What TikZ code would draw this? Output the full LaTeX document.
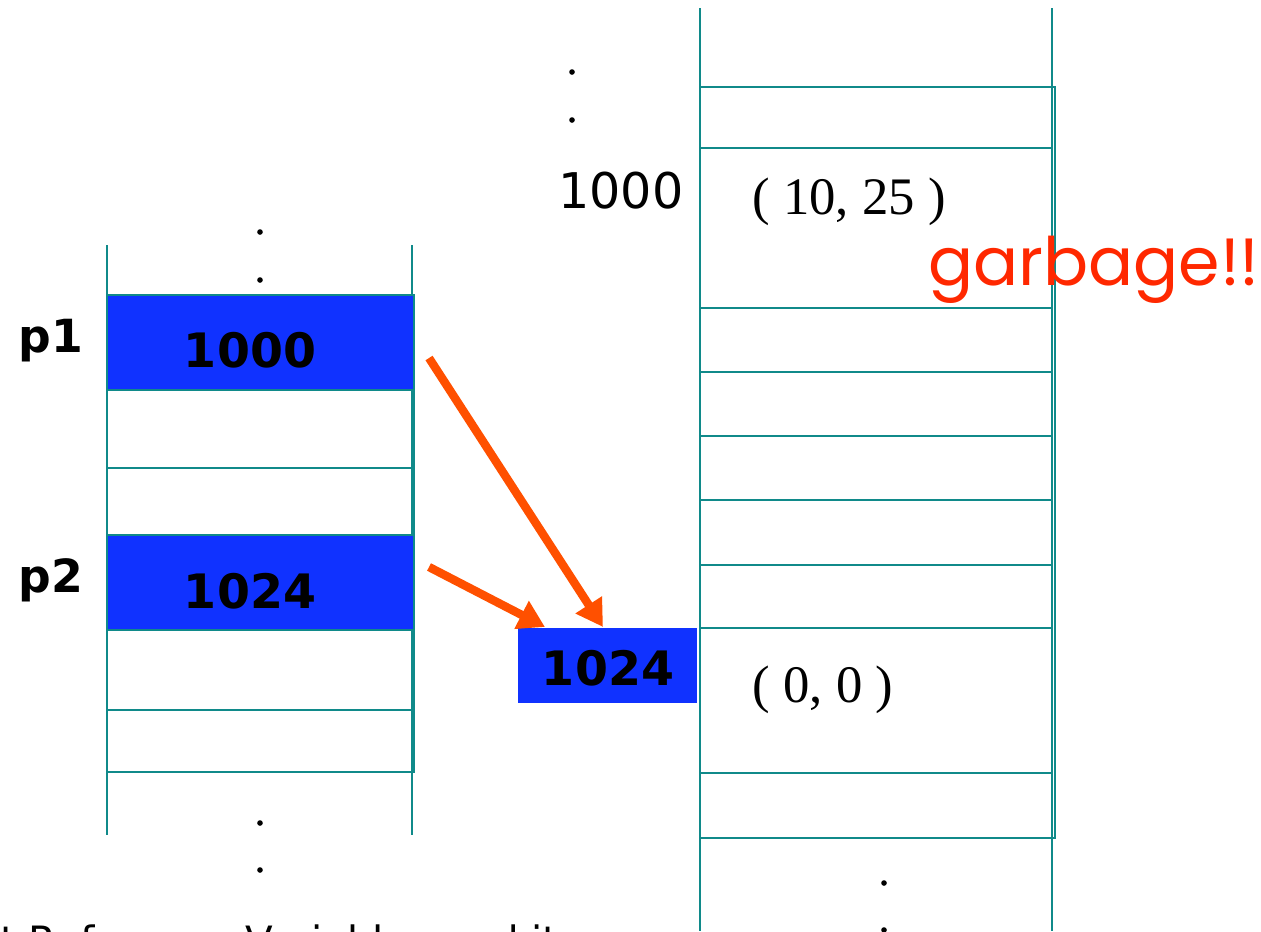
\documentclass[tikz,border=0pt]{standalone}
\usepackage{fontspec}
\setmainfont{DejaVu Sans}
\newfontfamily\timesfont{Liberation Serif}
\newfontfamily\comicfont{Poppins}
\usetikzlibrary{arrows.meta, calc}
\definecolor{cellteal}{RGB}{16,138,138}
\definecolor{ptrblue}{RGB}{16,50,255}
\definecolor{ptrorange}{RGB}{255,80,0}
\definecolor{garbred}{RGB}{255,40,0}

\begin{document}
\begin{tikzpicture}[x=0.02cm,y=-0.02cm,
    cell/.style={draw=cellteal, line width=1.2pt},
    ptrbox/.style={fill=ptrblue, draw=cellteal, line width=1.2pt, inner sep=0pt},
    boldnum/.style={anchor=base, font=\bfseries\fontsize{27}{30}\selectfont},
    ptr/.style={draw=ptrorange, line width=4.8pt, -{Triangle[length=15pt,width=17pt]}},
    dot/.style={circle, fill=black, inner sep=0pt, minimum size=3.2pt}]

  \useasboundingbox (0,0) rectangle (1261,931);
  \clip (0,0) rectangle (1261,931);

     % -------------------------
     % LEFT: pointer variables
     % -------------------------
      \draw[cell] (107,245) -- (107,835);
      \draw[cell] (412,245) -- (412,835);
      \draw[cell] (107,295) rectangle (414,772);
      \foreach \y in {390,468,710}
        \draw[cell] (107,\y) -- (414,\y);

      % Blue cells
      \node[ptrbox, minimum width=6.14cm, minimum height=1.9cm] (p1box) at (260.5,342.5) {};
      \node[ptrbox, minimum width=6.14cm, minimum height=1.9cm] (p2box) at (260.5,582.5) {};
      \node[boldnum] (p1val) at (250,367) {1000};
      \node[boldnum] (p2val) at (250,608) {1024};

      % Variable names
      \node[anchor=base west, inner sep=0pt, font=\bfseries\fontsize{26}{30}\selectfont] (p1name) at (18,352) {p1};
      \node[anchor=base west, inner sep=0pt, font=\bfseries\fontsize{26}{30}\selectfont] (p2name) at (18,592) {p2};

      % Dots
      \foreach \y [count=\i] in {232,280,823,870}
        \node[dot] (ldot\i) at (260,\y) {};

     % -------------------------
     % RIGHT: heap memory
     % -------------------------
      \draw[cell] (700,8) -- (700,931);
      \draw[cell] (1052,8) -- (1052,931);
      \draw[cell] (700,87) rectangle (1055,838);
      \foreach \y in {148,308,372,436,500,565,628,773}
        \draw[cell] (700,\y) -- (1052,\y);

      \node[anchor=base, font=\fontsize{28}{30}\selectfont] (addr) at (621,208) {1000};
      \node[anchor=base, font=\timesfont\fontsize{30}{32}\selectfont] (obj1) at (849,214) {( 10, 25 )};
      \node[anchor=base, font=\timesfont\fontsize{30}{32}\selectfont] (obj2) at (823,702) {( 0, 0 )};
      \node[anchor=base, text=garbred, font=\comicfont\fontsize{38}{40}\selectfont] (garb) at (1094,285) {garbage!!};

      \foreach \x/\y [count=\i] in {572/72,572/120,884/883,884/930}
        \node[dot] (rdot\i) at (\x,\y) {};

      % Heap value cell
      \node[ptrbox, draw=none, minimum width=3.58cm, minimum height=1.5cm] (hbox) at (607.5,665.5) {};
      \node[boldnum] (hval) at (608,685) {1024};

      % Pointer arrows
      \coordinate (p1tail) at ($(p1box.east)+(14,15.5)$);
      \coordinate (p2tail) at ($(p2box.east)+(14,-15.5)$);
      \coordinate (p1head) at ($(hbox.north west)+(86,0)$);
      \coordinate (p2head) at ($(hbox.north west)+(28,0)$);
      \draw[ptr] (p1tail) -- (p1head);
      \draw[ptr] (p2tail) -- (p2head);

      % Caption (cut off at the bottom edge)
      \node[anchor=base west, font=\fontsize{23}{26}\selectfont] (caption) at (-6,955) {t Reference Variables and it};
\end{tikzpicture}
\end{document}
